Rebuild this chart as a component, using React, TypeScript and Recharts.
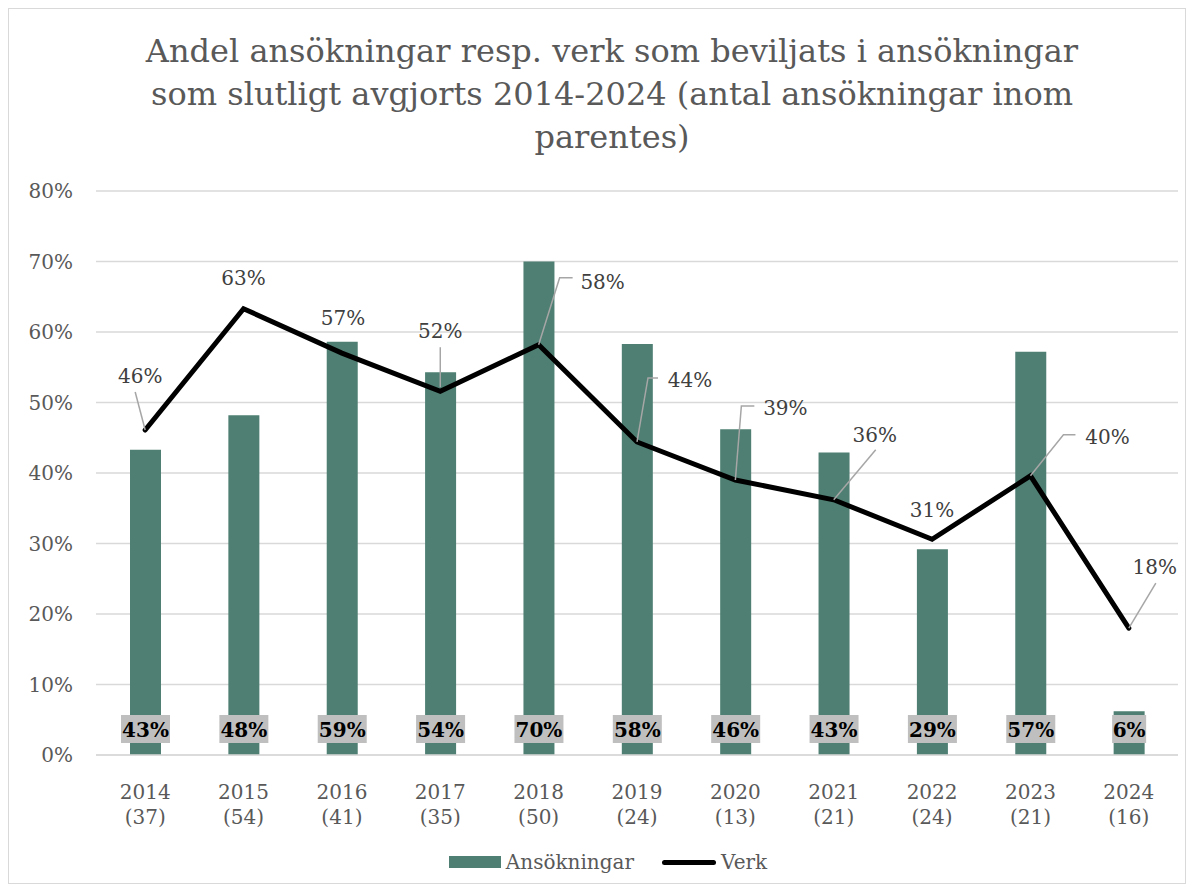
import React from "react";
import {
  ComposedChart,
  Bar,
  Line,
  XAxis,
  YAxis,
  CartesianGrid,
  Legend,
  LabelList,
} from "recharts";

const years = ["2014", "2015", "2016", "2017", "2018", "2019", "2020", "2021", "2022", "2023", "2024"];
const counts = [37, 54, 41, 35, 50, 24, 13, 21, 24, 21, 16];
const ansokningar = [43.3, 48.2, 58.6, 54.3, 70.0, 58.3, 46.2, 42.9, 29.2, 57.2, 6.2];
const verk = [46.1, 63.3, 57.0, 51.6, 58.2, 44.4, 39.0, 36.2, 30.6, 39.6, 18.0];
const yTicks = [0, 10, 20, 30, 40, 50, 60, 70, 80];

const data = years.map((y, i) => ({
  year: y,
  count: counts[i],
  ansokningar: ansokningar[i],
  verk: verk[i],
}));

const FONT = "Georgia, 'DejaVu Serif', serif";
const GREY = "#595959";
const GREEN = "#4e7f72";

// label placement for the line (label centre offset + leader line), per point
const verkLabelPos: { dx: number; dy: number; leader?: number[][] }[] = [
  { dx: -5, dy: -54, leader: [[0, 0], [-10, -38]] },
  { dx: 0, dy: -31 },
  { dx: 1, dy: -35 },
  { dx: 0, dy: -60, leader: [[0, -4], [0, -44]] },
  { dx: 64, dy: -63, leader: [[0, 0], [21, -67], [34, -67]] },
  { dx: 53, dy: -62, leader: [[0, 0], [11, -64], [21, -64]] },
  { dx: 50, dy: -72, leader: [[0, 0], [6, -74], [19, -74]] },
  { dx: 41, dy: -65, leader: [[0, 0], [42, -50]] },
  { dx: 0, dy: -29 },
  { dx: 77, dy: -39, leader: [[0, 0], [33, -41], [45, -41]] },
  { dx: 26, dy: -61, leader: [[0, 0], [27, -45]] },
];

function centerOf(props: any) {
  const vb = props.viewBox || {};
  const x = vb.x ?? props.x;
  const y = vb.y ?? props.y;
  return {
    cx: x + (vb.width || 0) / 2,
    cy: y + (vb.height || 0) / 2,
    bottom: y + (vb.height || 0),
  };
}

function VerkLabel(props: any) {
  const { index, value } = props;
  const { cx, cy } = centerOf(props);
  const pos = verkLabelPos[index] || { dx: 0, dy: -30 };
  return (
    <g>
      {pos.leader && (
        <polyline
          points={pos.leader.map(([a, b]) => `${cx + a},${cy + b}`).join(" ")}
          fill="none"
          stroke="#a6a6a6"
          strokeWidth={1.5}
        />
      )}
      <text
        x={cx + pos.dx}
        y={cy + pos.dy}
        textAnchor="middle"
        dominantBaseline="central"
        fontFamily={FONT}
        fontSize={20}
        fill="#404040"
      >
        {Math.round(value)}%
      </text>
    </g>
  );
}

function BarLabel(props: any) {
  const { value } = props;
  const { cx, bottom } = centerOf(props);
  const txt = `${Math.round(value)}%`;
  const w = txt.length * 15 + 4;
  return (
    <g>
      <rect x={cx - w / 2} y={bottom - 40} width={w} height={28} fill="#bfbfbf" />
      <text
        x={cx}
        y={bottom - 25}
        textAnchor="middle"
        dominantBaseline="central"
        fontFamily={FONT}
        fontWeight="bold"
        fontSize={20}
        fill="#000"
      >
        {txt}
      </text>
    </g>
  );
}

function YearTick(props: any) {
  const { x, y, payload, index } = props;
  return (
    <g>
      <text x={x} y={y + 36} textAnchor="middle" fontFamily={FONT} fontSize={20} fill={GREY}>
        <tspan x={x} dy={0}>{payload.value}</tspan>
        <tspan x={x} dy={25}>({counts[index]})</tspan>
      </text>
    </g>
  );
}

function LegendBox() {
  return (
    <div
      style={{
        height: 30,
        display: "flex",
        alignItems: "center",
        justifyContent: "center",
        fontFamily: FONT,
        fontSize: 20,
        color: GREY,
        paddingLeft: 30,
      }}
    >
      <span style={{ display: "inline-block", width: 52, height: 12, background: GREEN, marginRight: 5 }} />
      <span>Ansökningar</span>
      <span
        style={{
          display: "inline-block",
          width: 54,
          height: 5,
          borderRadius: 3,
          background: "#000",
          marginLeft: 28,
          marginRight: 5,
        }}
      />
      <span>Verk</span>
    </div>
  );
}

export default function App() {
  return (
    <div
      style={{
        position: "relative",
        width: 1178,
        height: 876,
        background: "#fff",
        outline: "1px solid #d9d9d9",
        outlineOffset: -1,
      }}
    >
      <div
        style={{
          position: "absolute",
          top: 22,
          left: 54,
          width: 1100,
          textAlign: "center",
          fontFamily: FONT,
          fontSize: 32,
          lineHeight: "43px",
          color: GREY,
          whiteSpace: "nowrap",
          zIndex: 1,
        }}
      >
        Andel ansökningar resp. verk som beviljats i ansökningar
        <br />
        som slutligt avgjorts 2014-2024 (antal ansökningar inom
        <br />
        parentes)
      </div>
      <ComposedChart
        width={1178}
        height={876}
        data={data}
        margin={{ top: 183, right: 8, left: 0, bottom: 7 }}
      >
        <CartesianGrid vertical={false} stroke="#d9d9d9" strokeWidth={1.5} />
        <XAxis
          dataKey="year"
          axisLine={{ stroke: "#d9d9d9", strokeWidth: 1.5 }}
          tickLine={false}
          height={92}
          interval={0}
          tick={<YearTick />}
        />
        <YAxis
          width={88}
          domain={[0, 80]}
          ticks={yTicks}
          axisLine={false}
          tickLine={false}
          tickMargin={17}
          tickFormatter={(v: number) => `${v}%`}
          tick={{ fontFamily: FONT, fontSize: 20, fill: GREY }}
        />
        <Legend verticalAlign="bottom" content={<LegendBox />} />
        <Bar dataKey="ansokningar" name="Ansökningar" fill={GREEN} barSize={31} isAnimationActive={false}>
          <LabelList dataKey="ansokningar" content={<BarLabel />} />
        </Bar>
        <Line
          dataKey="verk"
          name="Verk"
          stroke="#000"
          strokeWidth={5}
          strokeLinecap="round"
          dot={false}
          activeDot={false}
          isAnimationActive={false}
        >
          <LabelList dataKey="verk" content={<VerkLabel />} />
        </Line>
      </ComposedChart>
    </div>
  );
}
